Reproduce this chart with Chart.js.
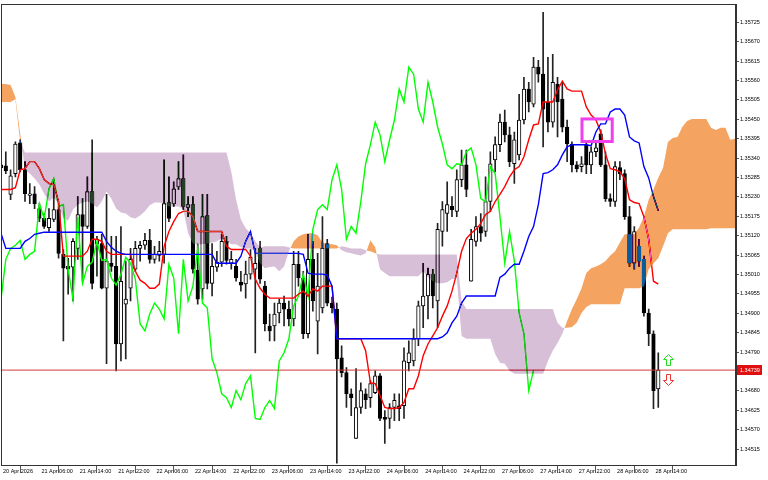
<!DOCTYPE html>
<html>
<head>
<meta charset="utf-8">
<title>H1 Ichimoku</title>
<script src="https://cdn.jsdelivr.net/npm/chart.js@4.4.1/dist/chart.umd.min.js"></script>
<style>
  html, body { margin: 0; padding: 0; background: #fff; }
  canvas { display: block; }
</style>
</head>
<body>
<canvas id="ichimokuChart" width="768" height="480"></canvas>
<script>
// hourly bars, index 0 = 20 Apr 22:00
const opens = [
  1.35321,1.35318,1.35237,1.35296,1.35383,1.35307,1.35234,1.35239,1.35197,1.35169,
  1.35143,1.35166,1.35194,1.35067,1.35033,1.35031,1.35084,1.35180,1.35146,1.35245,
  1.35096,1.35098,1.34971,1.35042,1.35033,1.34813,1.34926,1.34971,1.35025,1.35084,
  1.35093,1.35107,1.35053,1.35064,1.35067,1.35214,1.35211,1.35259,1.35282,1.35200,
  1.35208,1.35022,1.34969,1.35177,1.34985,1.35031,1.35045,1.35104,1.35042,1.35033,
  1.34988,1.34983,1.35011,1.35025,1.35084,1.34977,1.34864,1.34864,1.34901,1.34929,
  1.34912,1.34884,1.35039,1.35000,1.34842,1.35053,1.34878,1.34915,1.35098,1.34929,
  1.34912,1.34774,1.34732,1.34672,1.34545,1.34633,1.34672,1.34661,1.34675,1.34723,
  1.34605,1.34602,1.34633,1.34638,1.34638,1.34760,1.34765,1.34828,1.34921,1.34949,
  1.35011,1.34935,1.35132,1.35183,1.35203,1.35189,1.35279,1.35321,1.34991,1.35104,
  1.35146,1.35132,1.35217,1.35335,1.35378,1.35442,1.35406,1.35324,1.35349,1.35448,
  1.35536,1.35493,1.35598,1.35578,1.35499,1.35442,1.35550,1.35507,1.35428,1.35380,
  1.35321,1.35316,1.35378,1.35321,1.35358,1.35409,1.35321,1.35225,1.35217,1.35313,
  1.35296,1.35174,1.35042,1.35090,1.35053,1.34901,1.34842,1.34686
];
const highs = [
  1.35344,1.35358,1.35307,1.35386,1.35392,1.35330,1.35268,1.35259,1.35211,1.35183,
  1.35197,1.35279,1.35203,1.35081,1.35056,1.35112,1.35231,1.35225,1.35287,1.35392,
  1.35118,1.35124,1.35237,1.35118,1.35118,1.35146,1.35048,1.35084,1.35104,1.35104,
  1.35127,1.35138,1.35090,1.35104,1.35335,1.35287,1.35273,1.35330,1.35349,1.35231,
  1.35231,1.35096,1.35237,1.35237,1.35098,1.35076,1.35124,1.35118,1.35076,1.35053,
  1.35019,1.35048,1.35081,1.35084,1.35104,1.34991,1.34898,1.34929,1.34940,1.34949,
  1.34935,1.35076,1.35076,1.35019,1.35124,1.35104,1.35070,1.35174,1.35110,1.34946,
  1.34929,1.34808,1.34746,1.34686,1.34743,1.34703,1.34686,1.34709,1.34737,1.34729,
  1.34624,1.34644,1.34672,1.34672,1.34802,1.34822,1.34856,1.34935,1.35042,1.35028,
  1.35025,1.35155,1.35217,1.35273,1.35231,1.35307,1.35363,1.35363,1.35138,1.35174,
  1.35183,1.35287,1.35358,1.35400,1.35465,1.35476,1.35428,1.35414,1.35521,1.35569,
  1.35555,1.35626,1.35617,1.35753,1.35626,1.35634,1.35569,1.35555,1.35448,1.35386,
  1.35330,1.35344,1.35386,1.35372,1.35386,1.35420,1.35358,1.35239,1.35330,1.35330,
  1.35307,1.35203,1.35146,1.35110,1.35062,1.34912,1.34850,1.34788
];
const lows = [
  1.35301,1.35296,1.35222,1.35287,1.35301,1.35217,1.35211,1.35197,1.35160,1.35141,
  1.35132,1.35160,1.35056,1.34822,1.34954,1.34935,1.35053,1.34991,1.35141,1.34969,
  1.35005,1.34969,1.34757,1.35019,1.34737,1.34765,1.34771,1.34935,1.35019,1.35048,
  1.35081,1.35042,1.35042,1.35048,1.35042,1.35160,1.35203,1.35251,1.35194,1.35174,
  1.35014,1.34926,1.34940,1.34969,1.34949,1.35019,1.35033,1.35039,1.35025,1.34991,
  1.34963,1.34943,1.34997,1.34788,1.34985,1.34850,1.34822,1.34822,1.34873,1.34864,
  1.34864,1.34864,1.34977,1.34828,1.34830,1.34906,1.34785,1.34901,1.34921,1.34901,
  1.34475,1.34720,1.34633,1.34610,1.34545,1.34616,1.34630,1.34633,1.34672,1.34596,
  1.34531,1.34574,1.34596,1.34596,1.34602,1.34737,1.34751,1.34808,1.34859,1.34884,
  1.34915,1.34859,1.35090,1.35132,1.35174,1.35174,1.35259,1.35231,1.34991,1.35090,
  1.35104,1.35118,1.35189,1.35301,1.35358,1.35386,1.35316,1.35268,1.35335,1.35437,
  1.35471,1.35485,1.35555,1.35372,1.35414,1.35428,1.35400,1.35414,1.35330,1.35301,
  1.35301,1.35301,1.35296,1.35296,1.35344,1.35316,1.35217,1.35203,1.35203,1.35279,
  1.35166,1.35033,1.35025,1.35033,1.34892,1.34808,1.34630,1.34633
];
const closes = [
  1.35313,1.35304,1.35290,1.35380,1.35307,1.35239,1.35239,1.35211,1.35169,1.35146,
  1.35169,1.35194,1.35070,1.35028,1.35025,1.35104,1.35180,1.35146,1.35245,1.34985,
  1.35110,1.34971,1.35048,1.35033,1.34813,1.34991,1.34940,1.35053,1.35084,1.35093,
  1.35107,1.35053,1.35067,1.35076,1.35211,1.35169,1.35253,1.35282,1.35203,1.35208,
  1.35025,1.34940,1.35174,1.34985,1.35033,1.35045,1.35104,1.35050,1.35053,1.35000,
  1.34980,1.35011,1.35059,1.35042,1.34997,1.34870,1.34850,1.34898,1.34929,1.34912,
  1.34884,1.35039,1.35000,1.34842,1.35053,1.34935,1.34977,1.35084,1.34929,1.34915,
  1.34771,1.34732,1.34672,1.34661,1.34633,1.34681,1.34655,1.34701,1.34723,1.34602,
  1.34599,1.34633,1.34653,1.34630,1.34765,1.34788,1.34828,1.34921,1.34949,1.35011,
  1.34949,1.35138,1.35194,1.35208,1.35194,1.35279,1.35321,1.35251,1.35110,1.35146,
  1.35127,1.35217,1.35324,1.35378,1.35442,1.35406,1.35330,1.35392,1.35448,1.35536,
  1.35499,1.35598,1.35578,1.35479,1.35442,1.35555,1.35499,1.35428,1.35380,1.35321,
  1.35310,1.35324,1.35321,1.35358,1.35369,1.35321,1.35225,1.35217,1.35316,1.35296,
  1.35174,1.35042,1.35132,1.35048,1.34901,1.34842,1.34681,1.34739
];
const tenkan = [
  1.35251,1.35251,1.35251,1.35256,1.35307,1.35310,1.35330,1.35330,1.35310,1.35279,
  1.35268,1.35265,1.35217,1.35062,1.35062,1.35062,1.35062,1.35062,1.35076,1.35110,
  1.35110,1.35104,1.35076,1.35067,1.35067,1.35067,1.35067,1.35067,1.35019,1.34994,
  1.34985,1.34971,1.34971,1.34983,1.35090,1.35132,1.35160,1.35183,1.35189,1.35189,
  1.35174,1.35132,1.35132,1.35132,1.35132,1.35132,1.35132,1.35090,1.35081,1.35081,
  1.35081,1.35081,1.35062,1.34997,1.34971,1.34954,1.34943,1.34943,1.34943,1.34943,
  1.34943,1.34943,1.34954,1.34963,1.34949,1.34969,1.34963,1.34977,1.34977,1.34977,
  1.34828,1.34828,1.34828,1.34828,1.34828,1.34828,1.34794,1.34703,1.34701,1.34667,
  1.34633,1.34630,1.34630,1.34633,1.34647,1.34686,1.34686,1.34723,1.34780,1.34813,
  1.34836,1.34859,1.34892,1.34921,1.34963,1.35014,1.35076,1.35112,1.35127,1.35138,
  1.35155,1.35180,1.35189,1.35217,1.35237,1.35259,1.35287,1.35307,1.35316,1.35344,
  1.35392,1.35434,1.35437,1.35499,1.35499,1.35499,1.35533,1.35558,1.35536,1.35530,
  1.35530,1.35530,1.35485,1.35462,1.35448,1.35414,1.35352,1.35310,1.35307,1.35301,
  1.35282,1.35222,1.35214,1.35211,1.35174,1.35110,1.34991,1.34983
];
const kijun = [
  1.35127,1.35084,1.35084,1.35084,1.35084,1.35104,1.35112,1.35124,1.35127,1.35130,
  1.35130,1.35130,1.35130,1.35130,1.35130,1.35130,1.35130,1.35130,1.35130,1.35130,
  1.35130,1.35130,1.35104,1.35087,1.35076,1.35070,1.35067,1.35067,1.35067,1.35067,
  1.35067,1.35067,1.35067,1.35067,1.35067,1.35067,1.35067,1.35067,1.35067,1.35067,
  1.35067,1.35067,1.35067,1.35067,1.35067,1.35042,1.35042,1.35042,1.35042,1.35042,
  1.35062,1.35104,1.35132,1.35070,1.35070,1.35070,1.35070,1.35070,1.35070,1.35070,
  1.35070,1.35070,1.35070,1.35067,1.35014,1.35011,1.35011,1.35011,1.35008,1.34977,
  1.34828,1.34828,1.34828,1.34828,1.34828,1.34828,1.34828,1.34828,1.34828,1.34828,
  1.34828,1.34828,1.34828,1.34828,1.34828,1.34828,1.34828,1.34828,1.34828,1.34828,
  1.34828,1.34828,1.34833,1.34845,1.34873,1.34892,1.34929,1.34949,1.34949,1.34949,
  1.34949,1.34949,1.34949,1.34949,1.35002,1.35011,1.35028,1.35039,1.35039,1.35076,
  1.35118,1.35146,1.35208,1.35296,1.35299,1.35307,1.35321,1.35349,1.35372,1.35378,
  1.35378,1.35378,1.35378,1.35375,1.35414,1.35437,1.35437,1.35471,1.35479,1.35479,
  1.35462,1.35400,1.35389,1.35383,1.35316,1.35284,1.35231,1.35191
];
// senkou spans, already placed 26 bars ahead (index 0 = first visible bar)
const spanA = [
  1.35550,1.35550,1.35547,1.35513,1.35409,1.35307,1.35296,1.35282,1.35265,1.35239,
  1.35217,1.35228,1.35211,1.35169,1.35163,1.35194,1.35208,1.35214,1.35217,1.35211,
  1.35200,1.35217,1.35245,1.35225,1.35197,1.35186,1.35183,1.35172,1.35169,1.35177,
  1.35189,1.35206,1.35214,1.35214,1.35211,1.35203,1.35203,1.35203,1.35194,1.35127,
  1.35098,1.35096,1.35096,1.35098,1.35101,1.35104,1.35112,1.35104,1.35096,1.35096,
  1.35087,1.35084,1.35084,1.35076,1.35042,1.35028,1.35031,1.35033,1.35019,1.35033,
  1.35076,1.35104,1.35118,1.35124,1.35127,1.35127,1.35121,1.35101,1.35096,1.35096,
  1.35093,1.35079,1.35073,1.35070,1.35067,1.35064,1.35070,1.35107,1.35087,1.35025,
  1.35014,1.35005,1.35005,1.35005,1.35005,1.35005,1.35005,1.35005,1.35019,1.35002,
  1.34991,1.34985,1.34985,1.34988,1.34997,1.35000,1.34836,1.34828,1.34828,1.34828,
  1.34828,1.34828,1.34828,1.34785,1.34760,1.34757,1.34737,1.34729,1.34729,1.34729,
  1.34729,1.34729,1.34729,1.34729,1.34765,1.34794,1.34816,1.34842,1.34878,1.34912,
  1.34940,1.34971,1.35014,1.35028,1.35033,1.35039,1.35048,1.35064,1.35076,1.35101,
  1.35124,1.35124,1.35124,1.35143,1.35174,1.35222,1.35251,1.35284,1.35313,1.35386,
  1.35397,1.35400,1.35428,1.35445,1.35451,1.35451,1.35451,1.35451,1.35426,1.35420,
  1.35426,1.35426,1.35392,1.35395,1.35395
];
const spanB = [
  1.35499,1.35499,1.35499,1.35507,1.35386,1.35356,1.35356,1.35356,1.35356,1.35356,
  1.35356,1.35356,1.35356,1.35356,1.35356,1.35356,1.35356,1.35356,1.35356,1.35356,
  1.35356,1.35356,1.35356,1.35356,1.35356,1.35356,1.35356,1.35356,1.35356,1.35356,
  1.35356,1.35356,1.35356,1.35356,1.35356,1.35356,1.35356,1.35356,1.35356,1.35356,
  1.35356,1.35356,1.35356,1.35356,1.35356,1.35356,1.35356,1.35356,1.35301,1.35222,
  1.35166,1.35141,1.35127,1.35104,1.35087,1.35090,1.35090,1.35090,1.35090,1.35090,
  1.35087,1.35084,1.35084,1.35084,1.35084,1.35084,1.35084,1.35084,1.35084,1.35084,
  1.35084,1.35090,1.35087,1.35084,1.35084,1.35084,1.35079,1.35076,1.35070,1.35067,
  1.35067,1.35067,1.35067,1.35067,1.35067,1.35067,1.35067,1.35067,1.35067,1.35067,
  1.35067,1.35067,1.35067,1.35067,1.35067,1.35067,1.34935,1.34912,1.34912,1.34912,
  1.34912,1.34912,1.34912,1.34912,1.34912,1.34912,1.34912,1.34912,1.34912,1.34912,
  1.34912,1.34912,1.34912,1.34912,1.34912,1.34912,1.34873,1.34859,1.34859,1.34861,
  1.34873,1.34901,1.34918,1.34926,1.34926,1.34926,1.34926,1.34926,1.34926,1.34926,
  1.34971,1.34971,1.34971,1.34971,1.34977,1.35025,1.35042,1.35056,1.35090,1.35127,
  1.35138,1.35138,1.35138,1.35138,1.35138,1.35138,1.35138,1.35138,1.35141,1.35141,
  1.35141,1.35141,1.35141,1.35141,1.35141
];
const chikouShift = 26;
const lastPrice = 1.34739;

const timeTickIdx = [0, 8, 16, 24, 32, 40, 48, 56, 64, 72, 80, 88, 96, 104, 112, 120, 128, 136];
const timeLabels = [
  "20 Apr 2026", "21 Apr 06:00", "21 Apr 14:00", "21 Apr 22:00", "22 Apr 06:00", "22 Apr 14:00",
  "22 Apr 22:00", "23 Apr 06:00", "23 Apr 14:00", "23 Apr 22:00", "24 Apr 06:00", "24 Apr 14:00",
  "24 Apr 22:00", "27 Apr 06:00", "27 Apr 14:00", "27 Apr 22:00", "28 Apr 06:00", "28 Apr 14:00"
];
const priceTicks = [
  1.34515, 1.34570, 1.34625, 1.34680, 1.34790, 1.34845, 1.34900, 1.34955, 1.35010, 1.35065, 1.35120,
  1.35175, 1.35230, 1.35285, 1.35340, 1.35395, 1.35450, 1.35505, 1.35560, 1.35615, 1.35670, 1.35725
];
// marks drawn on the chart by the user
const markBox = { x0: 121.1, x1: 127.4, top: 1.35451, bottom: 1.35387 };
const signalArrows = [
  { x: 139, y: 1.34785, dir: "up", color: "#22dd22" },
  { x: 139, y: 1.34698, dir: "down", color: "#ee3333" }
];

const xMin = 0, xMax = 153.2;
const yMin = 1.34470, yMax = 1.35776;

const idx = opens.map((_, i) => i);
const wickData = idx.map(i => ({ x: i, y: [lows[i], highs[i]] }));
const bodyData = idx.map(i => ({ x: i, y: [opens[i], closes[i]] }));
const bodyFill = idx.map(i => closes[i] >= opens[i] ? "#ffffff" : "#000000");

const whiteBackground = {
    id: "whiteBackground",
    beforeDraw(chart) {
        const c = chart.ctx;
        c.save();
        c.fillStyle = "#ffffff";
        c.fillRect(0, 0, chart.width, chart.height);
        c.restore();
    }
};

// MT draws the cloud in XOR mode; "difference" over white gives the same colours
const kumo = {
    id: "kumo",
    afterDatasetsDraw(chart) {
        const { ctx: c, chartArea: a, scales: { x, y } } = chart;
        const pts = [];
        for (let j = 0; j < spanA.length; j++) {
            const px = x.getPixelForValue(j);
            const ya = y.getPixelForValue(spanA[j]);
            const yb = y.getPixelForValue(spanB[j]);
            if (pts.length) {
                const p = pts[pts.length - 1];
                const d0 = p.ya - p.yb, d1 = ya - yb;
                if (d0 * d1 < 0) {
                    const t = d0 / (d0 - d1);
                    const yc = p.ya + t * (ya - p.ya);
                    pts.push({ x: p.x + t * (px - p.x), ya: yc, yb: yc });
                }
            }
            pts.push({ x: px, ya: ya, yb: yb });
        }
        const band = (top, bottom, color) => {
            c.beginPath();
            pts.forEach((p, k) => k ? c.lineTo(p.x, top(p)) : c.moveTo(p.x, top(p)));
            for (let k = pts.length - 1; k >= 0; k--) c.lineTo(pts[k].x, bottom(pts[k]));
            c.closePath();
            c.fillStyle = color;
            c.fill();
        };
        c.save();
        c.beginPath();
        c.rect(a.left, a.top, a.right - a.left, a.bottom - a.top);
        c.clip();
        c.globalCompositeOperation = "difference";
        band(p => Math.min(p.ya, p.yb), p => p.yb, "rgb(11,91,159)");   // sandy brown
        band(p => Math.min(p.ya, p.yb), p => p.ya, "rgb(39,64,39)");    // thistle
        c.restore();
    }
};

const overlay = {
    id: "overlay",
    afterDraw(chart) {
        const { ctx: c, chartArea: a, scales: { x, y } } = chart;
        c.save();
        // frame
        c.strokeStyle = "#333";
        c.lineWidth = 1;
        c.strokeRect(Math.floor(a.left) + 0.5, Math.floor(a.top) + 0.5,
            Math.round(a.right - a.left) - 1, Math.round(a.bottom - a.top));

        // magenta rectangle
        const bx0 = x.getPixelForValue(markBox.x0), bx1 = x.getPixelForValue(markBox.x1);
        const by0 = y.getPixelForValue(markBox.top), by1 = y.getPixelForValue(markBox.bottom);
        c.strokeStyle = "rgb(238,64,238)";
        c.lineWidth = 3;
        c.strokeRect(bx0, by0, bx1 - bx0, by1 - by0);

        // hollow arrows
        signalArrows.forEach(s => {
            const cx = Math.round(x.getPixelForValue(s.x)) + 0.5;
            const ty = Math.round(y.getPixelForValue(s.y)) + 0.5;
            const d = s.dir === "up" ? 1 : -1;
            c.beginPath();
            c.moveTo(cx, ty);
            c.lineTo(cx + 5, ty + 5 * d);
            c.lineTo(cx + 2, ty + 5 * d);
            c.lineTo(cx + 2, ty + 11 * d);
            c.lineTo(cx - 2, ty + 11 * d);
            c.lineTo(cx - 2, ty + 5 * d);
            c.lineTo(cx - 5, ty + 5 * d);
            c.closePath();
            c.fillStyle = "#fff";
            c.fill();
            c.strokeStyle = s.color;
            c.lineWidth = 1;
            c.stroke();
        });

        // bid label on the price scale
        const ly = y.getPixelForValue(lastPrice);
        c.fillStyle = "#e01010";
        c.fillRect(a.right + 1, Math.round(ly) - 5, 25, 10);
        c.fillStyle = "#fff";
        c.font = "5.5px 'Liberation Sans', Arial, sans-serif";
        c.textBaseline = "middle";
        c.textAlign = "left";
        c.fillText(lastPrice.toFixed(5), a.right + 4, ly);
        c.restore();
    }
};

const lineSet = (label, data, color, order, width) => ({
    type: "line", label, data, borderColor: color, borderWidth: width,
    pointRadius: 0, tension: 0, fill: false, order
});

const axisFont = { family: "'Liberation Sans', Arial, sans-serif", size: 5.5 };

const ctx = document.getElementById("ichimokuChart");
const chart = new Chart(ctx, {
    type: "bar",
    data: {
        datasets: [
            lineSet("Tenkan-sen", tenkan.map((v, i) => ({ x: i, y: v })), "#ff0000", 2, 1.4),
            lineSet("Kijun-sen", kijun.map((v, i) => ({ x: i, y: v })), "#0000ff", 1, 1.4),
            lineSet("Chikou Span", closes.map((v, i) => ({ x: i - chikouShift, y: v })), "#00ff00", 3, 1.4),
            lineSet("Bid", [{ x: xMin, y: lastPrice }, { x: xMax, y: lastPrice }], "rgb(210,60,60)", 0, 1),
            {
                type: "bar", label: "wicks", data: wickData, backgroundColor: "#222",
                barThickness: 1, grouped: false, order: 6
            },
            {
                type: "bar", label: "bodies", data: bodyData, backgroundColor: bodyFill,
                borderColor: "#000", borderWidth: 1, borderSkipped: false,
                barThickness: 3.6, minBarLength: 1, grouped: false, order: 5
            }
        ]
    },
    options: {
        responsive: false,
        animation: false,
        devicePixelRatio: 1,
        layout: { padding: { left: 1, top: 2, right: 0, bottom: 0 } },
        plugins: { legend: { display: false }, tooltip: { enabled: false } },
        scales: {
            x: {
                type: "linear", min: xMin, max: xMax, offset: false,
                grid: { drawOnChartArea: false, tickLength: 8, color: "#555" },
                border: { display: true, color: "#333" },
                ticks: {
                    autoSkip: false, maxRotation: 0, minRotation: 0, align: "start",
                    labelOffset: 2, padding: -5, color: "#000", font: axisFont,
                    callback: (v, i) => timeLabels[i]
                },
                afterBuildTicks: s => { s.ticks = timeTickIdx.map(v => ({ value: v })); },
                afterFit: s => { s.height = 15; }
            },
            y: {
                position: "right", min: yMin, max: yMax,
                grid: { drawOnChartArea: false, tickLength: 3, color: "#555" },
                border: { display: true, color: "#333" },
                ticks: { padding: 1, color: "#000", font: axisFont, callback: v => v.toFixed(5) },
                afterBuildTicks: s => { s.ticks = priceTicks.map(v => ({ value: v })); },
                afterFit: s => { s.width = 32; }
            }
        }
    },
    plugins: [whiteBackground, kumo, overlay]
});
</script>
</body>
</html>
